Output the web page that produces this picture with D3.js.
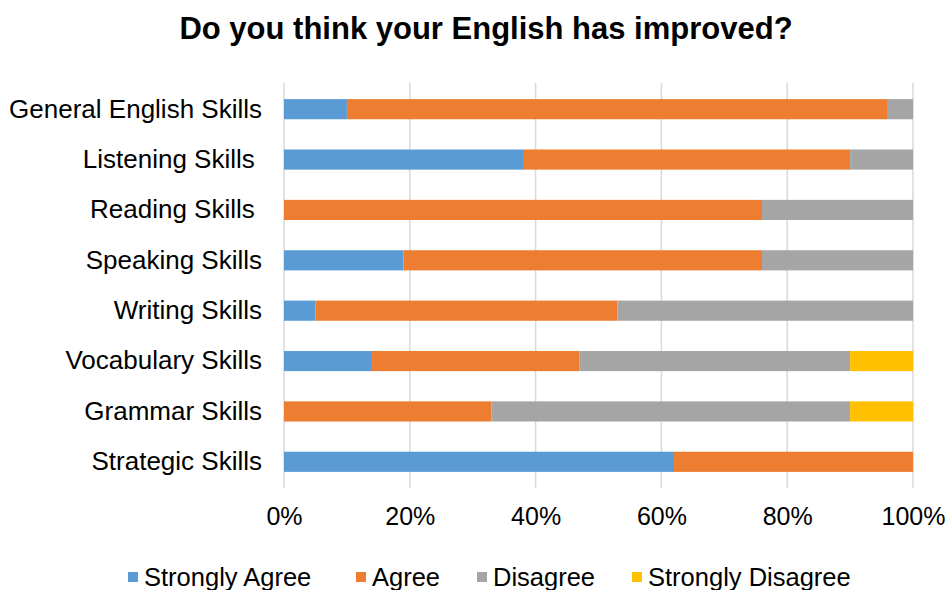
<!DOCTYPE html>
<html>
<head>
<meta charset="utf-8">
<script src="https://cdn.jsdelivr.net/npm/d3@7"></script>
<style>
  body { margin: 0; background: #fff; }
  text { font-family: "Liberation Sans", Arial, sans-serif; fill: #000; white-space: pre; }
</style>
</head>
<body>
<svg id="chart"></svg>
<script>
const categories = ["General English Skills", "Listening Skills ", "Reading Skills ", "Speaking Skills",
  "Writing Skills", "Vocabulary Skills", "Grammar Skills", "Strategic Skills"];
const seriesNames = ["Strongly Agree", "Agree", "Disagree", "Strongly Disagree"];
const stronglyAgree = [10, 38, 0, 19, 5, 14, 0, 62];
const agree = [86, 52, 76, 57, 48, 33, 33, 38];
const disagree = [4, 10, 24, 24, 47, 43, 57, 0];
const stronglyDisagree = [0, 0, 0, 0, 0, 10, 10, 0];
const colors = ["#5b9bd5", "#ed7d31", "#a5a5a5", "#ffc000"];
const xTicks = [0, 0.2, 0.4, 0.6, 0.8, 1];

const width = 947, height = 590;
const svg = d3.select("#chart").attr("width", width).attr("height", height);

const rows = categories.map((c, i) => ({
  cat: c,
  "Strongly Agree": stronglyAgree[i],
  "Agree": agree[i],
  "Disagree": disagree[i],
  "Strongly Disagree": stronglyDisagree[i]
}));
// normalise each row to 100%
const stacked = d3.stack().keys(seriesNames).offset(d3.stackOffsetExpand)(rows);

const x = d3.scaleLinear().domain([0, 1]).range([284, 913]);
const y = d3.scaleBand().domain(categories).range([84, 487]).paddingInner(0.6).paddingOuter(0.3);

// title
svg.append("text")
  .attr("x", 486).attr("y", 39)
  .attr("text-anchor", "middle")
  .style("font-size", "31px").style("font-weight", "bold")
  .text("Do you think your English has improved?");

// gridlines
svg.append("g").selectAll("line")
  .data(xTicks)
  .join("line")
  .attr("x1", d => x(d)).attr("x2", d => x(d))
  .attr("y1", 83).attr("y2", 488)
  .attr("stroke", "#d9d9d9").attr("stroke-width", 1.5);

// bars
svg.append("g").selectAll("g")
  .data(stacked)
  .join("g")
  .attr("fill", (d, i) => colors[i])
  .selectAll("rect")
  .data(d => d)
  .join("rect")
  .attr("x", d => x(d[0]))
  .attr("y", d => y(d.data.cat))
  .attr("width", d => x(d[1]) - x(d[0]))
  .attr("height", y.bandwidth());

// category labels
const yAxis = svg.append("g")
  .attr("transform", "translate(284,0)")
  .call(d3.axisLeft(y).tickSize(0).tickPadding(22));
yAxis.select(".domain").remove();
yAxis.selectAll("text").style("font-size", "26px");

// x tick labels
const xAxis = svg.append("g")
  .attr("transform", "translate(0,505)")
  .call(d3.axisBottom(x).tickValues(xTicks).tickFormat(d3.format(".0%")).tickSize(0).tickPadding(2));
xAxis.select(".domain").remove();
xAxis.selectAll("text").style("font-size", "25px");

// legend
const legX = [128, 356, 477, 632];
const leg = svg.append("g").selectAll("g")
  .data(seriesNames)
  .join("g")
  .attr("transform", (d, i) => `translate(${legX[i]},577)`);
leg.append("rect")
  .attr("x", 0).attr("y", -5).attr("width", 10).attr("height", 10)
  .attr("fill", (d, i) => colors[i]);
leg.append("text")
  .attr("x", 16).attr("y", 9)
  .style("font-size", "25.5px")
  .text(d => d);
</script>
</body>
</html>
